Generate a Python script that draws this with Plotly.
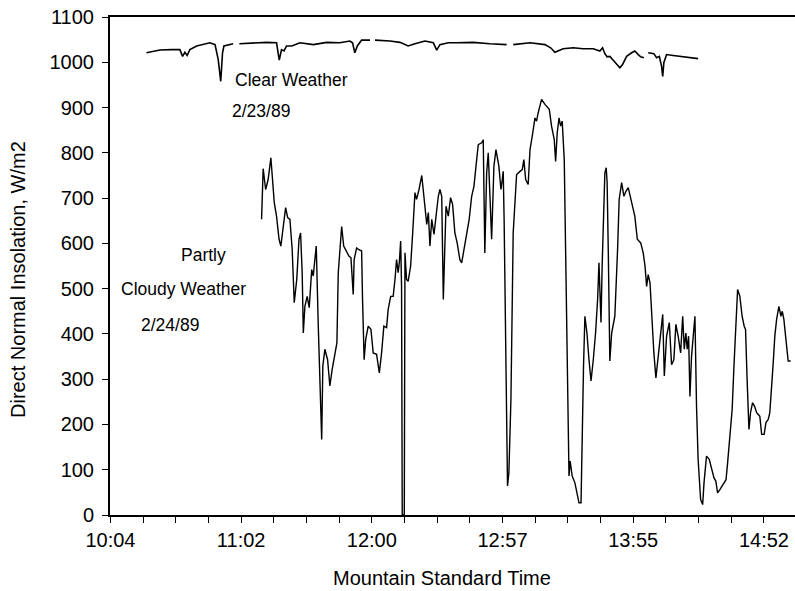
import plotly.graph_objects as go

# Time in minutes after 10:00 MST, insolation in W/m2
clear_minutes = [20.7, 26.6, 31.8, 35.4, 36.6, 37.6, 38.6, 39.8, 42.8, 48.6, 50.9, 52.3, 53.4, 54.2, 54.8, 56.7, 58.9,
                 None,
                 61.6, 67.7, 73.6, 78.0, 79.2, 80.2, 81.3, 82.4, 84.7, 88.3, 94.2, 100.1, 105.9, 110.3, 111.5, 112.5,
                 113.6, 115.5, 119.2,
                 None,
                 121.4, 128.0, 132.4, 136.0, 139.0, 143.4, 147.1, 148.6, 150.0, 153.7, 157.4, 164.7, 172.0, 179.4,
                 None,
                 182.3, 189.7, 196.3, 198.8, 200.7, 204.3, 208.8, 213.1, 217.6, 220.5, 221.7, 222.7, 223.7, 224.9,
                 226.1, 227.6, 229.3, 230.5, 232.3, 234.5, 235.9, 237.4, 238.5, 239.9,
                 None,
                 241.8, 244.3, 245.5, 246.7, 247.7, 248.2, 248.7, 249.9, 252.8, 258.7, 263.8]
clear_values = [1021, 1027, 1028, 1028, 1013, 1022, 1015, 1028, 1036, 1043, 1039, 1006, 958, 1021, 1036, 1039, 1041,
                None,
                1041, 1043, 1044, 1043, 1005, 1028, 1025, 1036, 1036, 1043, 1039, 1044, 1043, 1047, 1043, 1021,
                1036, 1049, 1049,
                None,
                1049, 1047, 1044, 1036, 1041, 1047, 1043, 1027, 1039, 1043, 1043, 1044, 1041, 1039,
                None,
                1039, 1043, 1039, 1032, 1022, 1030, 1032, 1030, 1030, 1025, 1032, 1019, 1012, 1013,
                1006, 997, 988, 995, 1013, 1021, 1025, 1017, 1012, 1010,
                None,
                1021, 1019, 1010, 1013, 991, 969, 999, 1017, 1015, 1012, 1008]

cloudy_minutes = [71.4, 72.1, 73.2, 74.3, 75.5, 77.0, 78.0, 79.1, 79.9, 81.0, 82.0, 82.9, 83.9, 84.9, 85.8, 86.9,
                  87.9, 88.6, 89.3, 89.8, 90.5, 91.5, 92.4, 93.5, 94.2, 94.6, 95.5, 96.4, 97.3, 97.9, 98.4, 99.3,
                  100.5, 101.5, 102.5, 103.7, 104.6, 105.2, 106.1, 106.7, 107.6, 108.9, 109.9, 110.8, 111.4, 111.8,
                  112.2, 113.3, 114.3, 115.5, 115.9, 116.6, 117.3, 118.4, 119.6, 120.6, 122.1, 123.3, 124.3, 125.3,
                  126.5, 127.2, 128.3, 129.4, 130.2, 130.9, 131.6, 132.1, 132.7, 133.1, 133.4, 134.3, 134.6, 135.3,
                  136.0, 137.1, 138.0, 139.0, 139.7, 140.8, 142.0, 142.7, 143.4, 144.2, 144.9, 145.6, 146.4, 147.4,
                  148.3, 149.3, 150.0, 150.8, 151.5, 152.1, 152.7, 153.7, 154.7, 155.6, 156.6, 157.6, 158.8, 159.6,
                  160.6, 161.8, 162.9, 164.0, 165.0, 165.9, 166.9, 168.4, 169.1, 169.8, 170.6, 171.3, 172.0, 172.8,
                  173.8, 174.7, 176.0, 176.9, 177.5, 177.9, 178.3, 179.0, 179.4, 179.8, 180.4, 181.3, 182.3, 183.1,
                  183.8, 185.3, 186.3, 187.0, 187.8, 188.9, 189.7, 190.7, 191.9, 192.6, 193.3, 194.8, 196.3, 198.2,
                  199.2, 200.4, 201.0, 201.7, 202.5, 203.2, 203.9, 204.8, 205.4, 206.3, 206.9, 207.4, 208.3, 209.5,
                  210.3, 211.3, 212.2, 212.7, 213.3, 213.9, 214.8, 215.7, 216.6, 217.6, 218.6, 219.5, 220.1, 220.5,
                  221.0, 221.5, 222.2, 222.7, 223.3, 223.7, 224.2, 224.9, 225.7, 227.1, 228.3, 229.0, 230.1, 231.1,
                  232.0, 233.0, 234.2, 235.9, 237.0, 238.5, 239.6, 240.4, 241.1, 241.8, 242.6, 243.3, 244.3, 245.2,
                  246.2, 247.3, 248.2, 248.9, 249.9, 251.1, 252.1, 253.1, 254.0, 255.0, 256.1, 257.0, 257.7, 258.4,
                  259.0, 259.6, 260.2, 260.9, 261.6, 262.4, 263.1, 263.8, 264.9, 265.8, 266.4, 267.5, 268.7, 269.7,
                  270.8, 271.6, 272.4, 273.4, 274.9, 276.1, 276.8, 277.8, 278.8, 279.6, 280.3, 281.2, 282.2, 283.2,
                  284.1, 284.7, 285.4, 286.2, 286.9, 287.8, 288.7, 289.6, 290.3, 291.0, 291.8, 292.9, 293.7, 294.7,
                  295.4, 296.2, 296.9, 297.6, 298.4, 299.4, 300.3, 300.9, 301.6, 302.5, 303.5, 304.6]
cloudy_values = [653, 765, 719, 741, 789, 690, 660, 609, 594, 638, 679, 657, 653, 586, 469, 520,
                 609, 623, 535, 402, 461, 483, 458, 542, 528, 550, 594, 417, 255, 167, 329, 366,
                 343, 285, 321, 358, 380, 535, 609, 637, 594, 583, 572, 568, 528, 487,
                 564, 590, 586, 583, 476, 343, 388, 417, 410, 358, 355, 314, 358, 417,
                 414, 454, 483, 483, 520, 564, 535, 557, 605, 505, 0, 0, 579, 520,
                 516, 550, 623, 712, 697, 719, 750, 719, 675, 642, 668, 594, 653, 620,
                 660, 704, 719, 704, 476, 609, 682, 660, 701, 686, 623, 601, 564, 557,
                 586, 623, 653, 704, 726, 770, 818, 822, 829, 579, 756, 800, 697, 609,
                 770, 807, 770, 719, 741, 759, 653, 402, 255, 64, 93, 255, 623, 697,
                 752, 759, 763, 785, 741, 730, 807, 837, 877, 870, 888, 918, 907, 896,
                 859, 829, 781, 844, 877, 859, 870, 785, 550, 255, 86, 119, 86, 71,
                 49, 27, 27, 182, 329, 439, 402, 343, 296, 343, 402, 476, 557, 498,
                 425, 550, 697, 756, 767, 734, 586, 340, 402, 439, 586, 697, 734, 704,
                 715, 723, 697, 660, 609, 601, 579, 550, 505, 531, 513, 447, 358, 303,
                 351, 402, 443, 307, 395, 425, 332, 343, 421, 395, 358, 439, 366, 402,
                 366, 395, 262, 351, 388, 439, 240, 123, 34, 23, 71, 130, 123, 101,
                 82, 75, 49, 56, 67, 78, 115, 167, 233, 329, 417, 498, 483, 439,
                 417, 410, 299, 189, 226, 248, 240, 226, 222, 218, 178, 178, 204, 211,
                 226, 277, 336, 395, 432, 461, 439, 450, 432, 388, 340, 340]

tick_labels = ["10:04", "11:02", "12:00", "12:57", "13:55", "14:52"]
y_ticks = [0, 100, 200, 300, 400, 500, 600, 700, 800, 900, 1000, 1100]

FONT = "Liberation Sans, Arial, Helvetica, sans-serif"

major_step = 57.6
first_tick = 4.8
major_vals = [first_tick + major_step * i for i in range(len(tick_labels))]
minor_vals = [first_tick + major_step / 4 * i for i in range(22)]

fig = go.Figure()
fig.add_trace(go.Scatter(x=clear_minutes, y=clear_values, mode="lines",
                         line=dict(color="black", width=1.6), connectgaps=False,
                         showlegend=False, hoverinfo="skip"))
fig.add_trace(go.Scatter(x=cloudy_minutes, y=cloudy_values, mode="lines",
                         line=dict(color="black", width=1.4),
                         showlegend=False, hoverinfo="skip"))

fig.update_layout(
    width=795, height=591,
    margin=dict(l=110, r=0, t=17, b=76),
    paper_bgcolor="white", plot_bgcolor="white",
    font=dict(family=FONT, size=20, color="black"),
    xaxis=dict(range=[4.6, 306.5], showgrid=False, zeroline=False,
               showline=True, linecolor="black", linewidth=2, mirror=True,
               tickmode="array", tickvals=major_vals, ticktext=tick_labels,
               ticks="outside", ticklen=6, tickwidth=1, tickcolor="black",
               tickfont=dict(size=20),
               minor=dict(tickmode="array", tickvals=minor_vals, ticks="outside",
                          ticklen=6, tickwidth=1, tickcolor="black")),
    yaxis=dict(range=[0, 1100], showgrid=False, zeroline=False,
               showline=True, linecolor="black", linewidth=2,
               tickmode="array", tickvals=y_ticks,
               ticks="outside", ticklen=6, tickwidth=1, tickcolor="black",
               ticklabelstandoff=4,
               tickfont=dict(size=20)),
)

ann = [
    dict(text="Clear Weather", x=0.1796, y=0.8735, xanchor="left", yanchor="middle", font=dict(size=17.5)),
    dict(text="2/23/89", x=0.1750, y=0.8112, xanchor="left", yanchor="middle", font=dict(size=17.5)),
    dict(text="Partly", x=0.1358, y=0.5221, xanchor="center", yanchor="middle", font=dict(size=17.5)),
    dict(text="Cloudy Weather", x=0.1066, y=0.4538, xanchor="center", yanchor="middle", font=dict(size=17.5)),
    dict(text="2/24/89", x=0.0876, y=0.3815, xanchor="center", yanchor="middle", font=dict(size=17.5)),
    dict(text="Mountain Standard Time", x=0.4847, y=-0.1265, xanchor="center", yanchor="middle",
         font=dict(size=20)),
    dict(text="Direct Normal Insolation, W/m2", x=-0.1343, y=0.472, xanchor="center", yanchor="middle",
         textangle=-90, font=dict(size=20)),
]
for a in ann:
    a.update(xref="paper", yref="paper", showarrow=False)
    fig.add_annotation(**a)

fig.write_html("out.html")
